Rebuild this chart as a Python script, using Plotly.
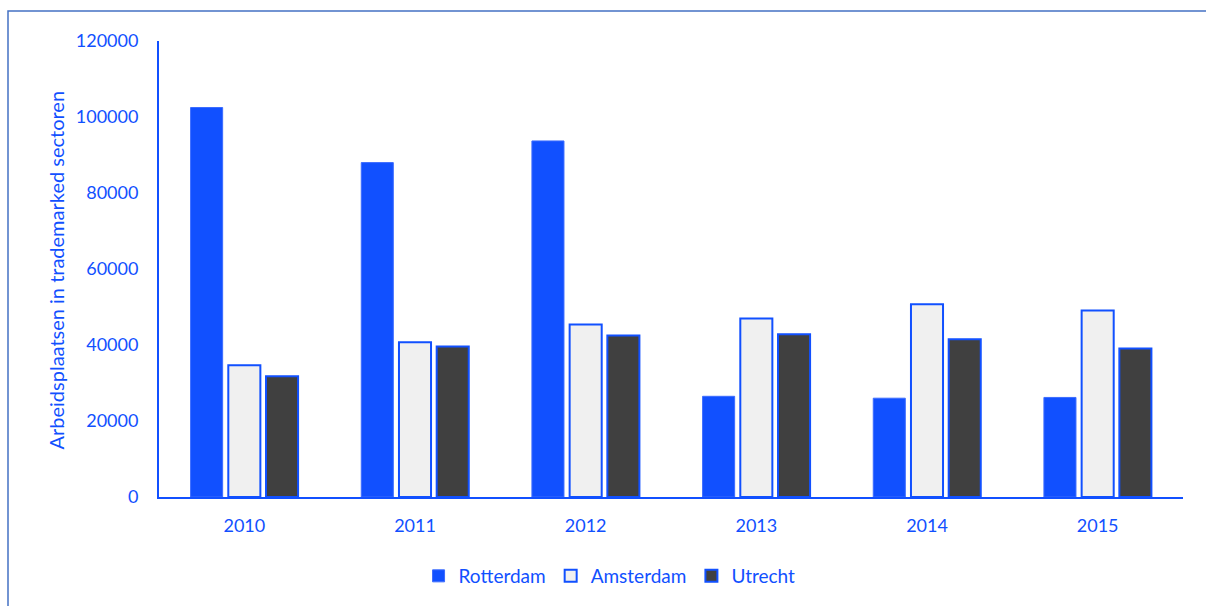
import plotly.graph_objects as go

years = ["2010", "2011", "2012", "2013", "2014", "2015"]
rotterdam = [102500, 88000, 93700, 26500, 26000, 26200]
amsterdam = [34700, 40700, 45400, 47000, 50700, 49100]
utrecht = [31800, 39600, 42500, 42800, 41500, 39100]
y_ticks = [0, 20000, 40000, 60000, 80000, 100000, 120000]

BLUE = "#1150FF"
FONT = "Lato"

W, H = 1206, 606
L, R, T, B = 159, 23, 41, 108
pw, ph = W - L - R, H - T - B

def px(x):
    return (x - L) / pw

def py(y):
    return (H - B - y) / ph

fig = go.Figure()
fig.add_trace(go.Bar(x=years, y=rotterdam, name="Rotterdam",
                     marker=dict(color=BLUE, line=dict(color="#3C6CFF", width=1))))
fig.add_trace(go.Bar(x=years, y=amsterdam, name="Amsterdam",
                     marker=dict(color="#F0F0F0", line=dict(color=BLUE, width=2))))
fig.add_trace(go.Bar(x=years, y=utrecht, name="Utrecht",
                     marker=dict(color="#404040", line=dict(color=BLUE, width=2))))

fig.update_layout(
    width=W, height=H,
    margin=dict(l=L, r=R, t=T, b=B, pad=0),
    paper_bgcolor="white", plot_bgcolor="white",
    barmode="group", bargap=0.337, bargroupgap=0.15,
    font=dict(family=FONT, size=18, color=BLUE),
    showlegend=True,
    legend=dict(orientation="h", x=0.44, xanchor="center", y=py(576), yanchor="middle",
                font=dict(family=FONT, size=19, color=BLUE), itemwidth=30,
                traceorder="normal"),
    xaxis=dict(showline=True, linecolor=BLUE, linewidth=2, showgrid=False,
               ticks="", ticklabelstandoff=11, tickfont=dict(size=18, color=BLUE)),
    yaxis=dict(range=[0, 120000], tickvals=y_ticks, ticktext=[str(v) for v in y_ticks],
               showline=True, linecolor=BLUE,
               linewidth=2, showgrid=False, zeroline=False, ticks="",
               ticklabelstandoff=15, tickfont=dict(size=18, color=BLUE)),
    shapes=[dict(type="rect", xref="paper", yref="paper",
                 x0=px(8), x1=px(1215), y0=py(615), y1=py(11),
                 line=dict(color="#4472C4", width=1.5), layer="below")],
    annotations=[dict(text="Arbeidsplaatsen in trademarked sectoren", textangle=-90,
                      xref="paper", yref="paper", x=px(56), y=py(271),
                      xanchor="center", yanchor="middle", showarrow=False,
                      font=dict(family=FONT, size=20, color=BLUE))],
)

fig.write_html("out.html")
